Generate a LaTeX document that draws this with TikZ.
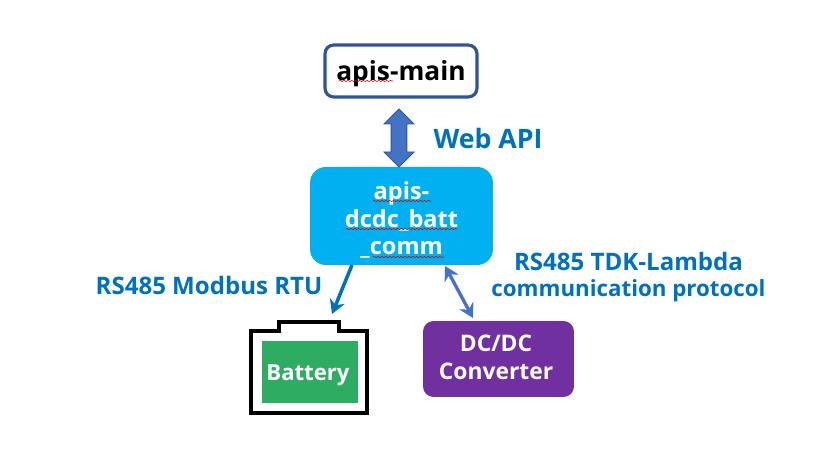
\documentclass[tikz,border=0pt]{standalone}
\usepackage{fontspec}
\setmainfont{Open Sans}
\usetikzlibrary{arrows.meta,shapes.arrows,decorations.pathmorphing}
\definecolor{navyline}{HTML}{2F5597}
\definecolor{arrowblue}{HTML}{4472C4}
\definecolor{labelblue}{HTML}{0070C0}
\definecolor{skyfill}{HTML}{00B0F0}
\definecolor{battgreen}{HTML}{2EAD62}
\definecolor{convpurple}{HTML}{7030A0}
\tikzset{
	boxtext/.style={font=\bfseries\fontsize{13}{15.9}\selectfont,align=center,inner sep=0pt},
	linktext/.style={font=\bfseries\fontsize{13.7}{15.9}\selectfont,text=labelblue,align=center,inner sep=0pt},
	squiggle/.style={draw=red!80!black,line width=0.3pt,decorate,decoration={snake,amplitude=0.35pt,segment length=2.2pt}},
}
\begin{document}
\begin{tikzpicture}[x=0.02cm,y=-0.02cm]
	\useasboundingbox (0,0) rectangle (829,462);
	\node (main) [draw=navyline,line width=1.8pt,rounded corners=5pt,minimum width=3.04cm,minimum height=1.04cm,fill=white,boxtext,text=black,font=\bfseries\fontsize{15}{17}\selectfont] at (401,71) {\rule{0pt}{14.7pt}apis-main};
	\node (dcdc) [fill=skyfill,rounded corners=9pt,minimum width=3.66cm,minimum height=1.96cm,boxtext,text=white,font=\bfseries\fontsize{13.4}{15.9}\selectfont] at (401.5,216) {\rule{0pt}{14.7pt}apis-\\dcdc\_batt\\\_comm};
	\node (webarrow) [shape=double arrow,rotate=90,draw=navyline,fill=arrowblue,line width=0.5pt,inner sep=0pt,minimum width=0.6cm,minimum height=1.16cm,double arrow head extend=0.1cm,text height=0.2cm,text width=0.3cm] at (399,138) {};
	\node (webapi) [linktext,font=\bfseries\fontsize{15.2}{18}\selectfont] at (488,138) {Web API};
	\node (modbus) [linktext] at (209,285) {RS485 Modbus RTU};
	\node (tdk) [linktext] at (628.5,261) {RS485 TDK-Lambda};
	\node (protocol) [linktext,font=\bfseries\fontsize{12.7}{15.9}\selectfont] at (628.5,291) {communication protocol};
	\draw [black,line width=1.8pt,line join=miter,fill=white] (251,331) -- (279,331) -- (279,322) -- (339,322) -- (339,331) -- (367,331) -- (367,413) -- (251,413) -- cycle;
	\node (battery) [fill=battgreen,minimum width=1.92cm,minimum height=1.24cm,boxtext,text=white,font=\bfseries\fontsize{12.6}{15}\selectfont] at (310,372) {\rule{0pt}{13pt}Battery\hspace*{2.3pt}};
	\node (conv) [fill=convpurple,rounded corners=6pt,minimum width=3.02cm,minimum height=1.52cm,boxtext,text=white] at (498.5,359) {DC/DC\hspace*{2.8pt}\\Converter\hspace*{2.8pt}\rule[-2.3pt]{0pt}{1pt}};
	\coordinate (battin) at (332,314);
	\coordinate (battout) at (352,265);
	\coordinate (convin) at (473,318);
	\coordinate (convout) at (445,266);
	\draw [-{Stealth[length=8pt,width=9pt]},labelblue,line width=2pt] (battout) -- (battin);
	\draw [{Stealth[length=8pt,width=9pt]}-{Stealth[length=8pt,width=9pt]},arrowblue,line width=1.9pt] (convout) -- (convin);
	\draw [squiggle] (339,81) -- (393,81);
	\draw [squiggle] (373,201) -- (431,201);
	\draw [squiggle] (346,229) -- (457,229);
	\draw [squiggle] (373,257) -- (444,257);
\end{tikzpicture}
\end{document}
